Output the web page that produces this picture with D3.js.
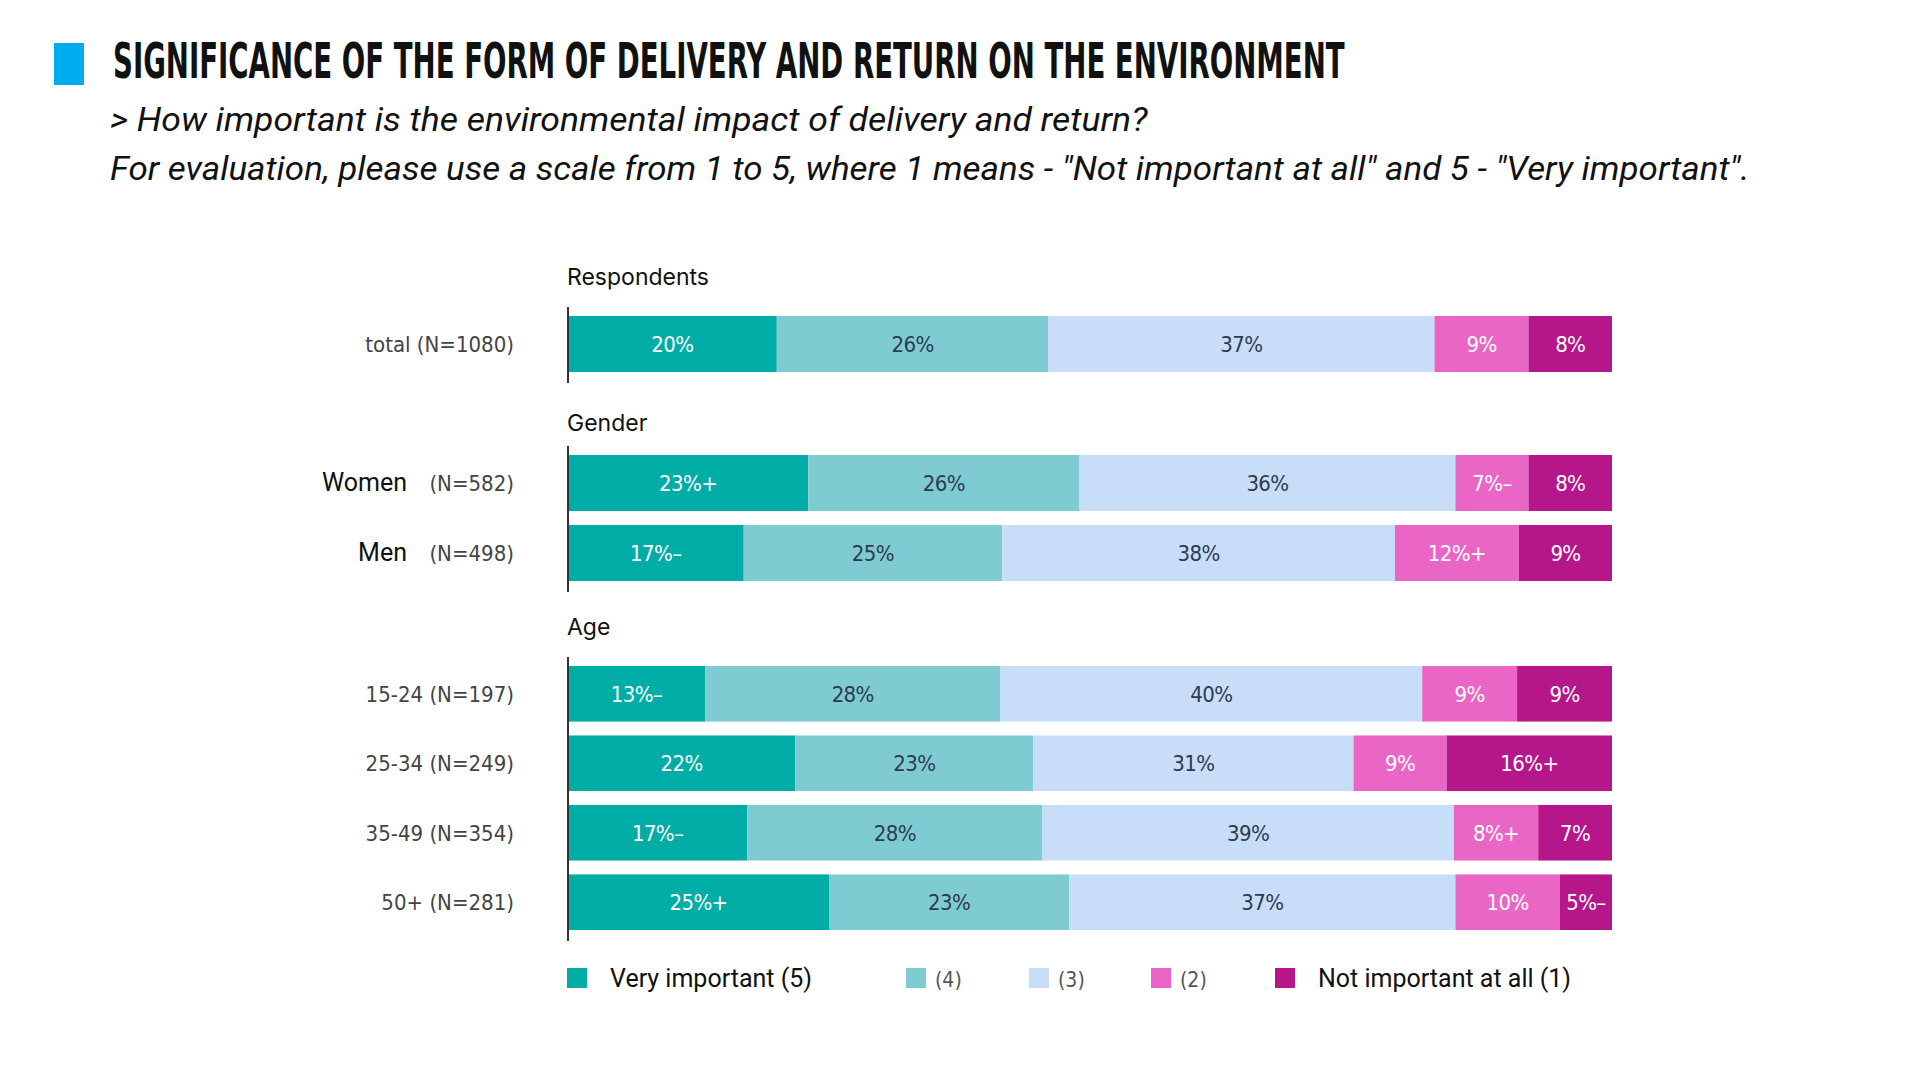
<!DOCTYPE html>
<html lang="en">
<head>
    <meta charset="UTF-8">
    <title>Significance of the form of delivery and return on the environment</title>
    <script src="https://d3js.org/d3.v7.min.js"></script>
</head>
<style>
    html,body{
        padding:0px;
        margin:0px;
        width:1920px;
        height:1080px;
        background:#fff;
        overflow:hidden;
    }
</style>
<body>
<svg id="chart" width="1920" height="1080"></svg>
<script>

    // data
    const groups = ["Respondents", "Gender", "Age"];
    const rowGroup = [0, 1, 1, 2, 2, 2, 2];
    const rowNames = ["total", "Women", "Men", "15-24", "25-34", "35-49", "50+"];
    const rowN = ["(N=1080)", "(N=582)", "(N=498)", "(N=197)", "(N=249)", "(N=354)", "(N=281)"];
    const levels = ["Very important (5)", "(4)", "(3)", "(2)", "Not important at all (1)"];

    const v5 = [20, 23, 17, 13, 22, 17, 25];
    const v4 = [26, 26, 25, 28, 23, 28, 23];
    const v3 = [37, 36, 38, 40, 31, 39, 37];
    const v2 = [9, 7, 12, 9, 9, 8, 10];
    const v1 = [8, 8, 9, 9, 16, 7, 5];

    // significance marks after the value
    const m5 = ["", "+", "–", "–", "", "–", "+"];
    const m4 = ["", "", "", "", "", "", ""];
    const m3 = ["", "", "", "", "", "", ""];
    const m2 = ["", "–", "+", "", "", "+", ""];
    const m1 = ["", "", "", "", "+", "", "–"];

    const colors = ["#00ADA6", "#7ECCD1", "#C8DEF8", "#EA66C6", "#B5168A"];
    const labelColors = ["#ffffff", "#2E3A50", "#2E3A50", "#ffffff", "#ffffff"];

    const keys = ["k5", "k4", "k3", "k2", "k1"];
    const series = [v5, v4, v3, v2, v1];
    const marks = [m5, m4, m3, m2, m1];

    const table = rowNames.map((name, i) => {
        const o = {name: name, i: i};
        keys.forEach((k, j) => o[k] = series[j][i]);
        return o;
    });

    const stacked = d3.stack().keys(keys).offset(d3.stackOffsetExpand)(table);

    const svg = d3.select("#chart");
    const condensed = "'DejaVu Sans Condensed','DejaVu Sans',sans-serif";

    // squeeze a text horizontally to a given width
    function fitWidth(sel, x0, w) {
        const n = sel.node().getComputedTextLength();
        const sx = w / n;
        sel.attr("transform", "translate(" + x0 + ",0) scale(" + sx + ",1)").attr("x", 0);
    }

    // header
    svg.append("rect")
        .attr("x", 54).attr("y", 43)
        .attr("width", 30).attr("height", 42)
        .attr("fill", "#00AEEF");
    const title = svg.append("text")
        .attr("x", 0).attr("y", 78)
        .attr("font-family", condensed)
        .attr("font-stretch", "condensed")
        .attr("font-weight", "bold")
        .attr("font-size", 49)
        .attr("fill", "#111")
        .text("SIGNIFICANCE OF THE FORM OF DELIVERY AND RETURN ON THE ENVIRONMENT");
    fitWidth(title, 113, 1232);

    const sub1 = svg.append("text")
        .attr("x", 0).attr("y", 131)
        .attr("font-family", "Roboto, sans-serif")
        .attr("font-style", "italic")
        .attr("font-size", 33)
        .attr("fill", "#111")
        .text("> How important is the environmental impact of delivery and return?");
    fitWidth(sub1, 110, 1038);
    const sub2 = svg.append("text")
        .attr("x", 0).attr("y", 180)
        .attr("font-family", "Roboto, sans-serif")
        .attr("font-style", "italic")
        .attr("font-size", 33)
        .attr("fill", "#111")
        .text("For evaluation, please use a scale from 1 to 5, where 1 means - \"Not important at all\" and 5 - \"Very important\".");
    fitWidth(sub2, 110, 1640);

    // scales
    const x = d3.scaleLinear().domain([0, 1]).range([568, 1612]);
    const groupRanges = [[316, 372], [455, 581], [666, 930]];
    const groupHeads = [285, 431, 635];
    const yScales = groupRanges.map((r, g) => {
        const names = rowNames.filter((d, i) => rowGroup[i] === g);
        return d3.scaleBand()
            .domain(names)
            .range(r)
            .paddingInner(names.length > 1 ? 0.2 : 0);
    });
    const yOf = i => yScales[rowGroup[i]](rowNames[i]);
    const bh = i => yScales[rowGroup[i]].bandwidth();

    // group titles and axis lines
    groups.forEach((g, gi) => {
        svg.append("text")
            .attr("x", 567).attr("y", groupHeads[gi])
            .attr("font-family", "Inter, sans-serif")
            .attr("font-size", 23)
            .attr("fill", "#111")
            .text(g);
        svg.append("line")
            .attr("x1", 568).attr("x2", 568)
            .attr("y1", groupRanges[gi][0] - 9)
            .attr("y2", groupRanges[gi][1] + 11)
            .attr("stroke", "#333")
            .attr("stroke-width", 2);
    });

    // bars
    const layer = svg.append("g").selectAll("g")
        .data(stacked)
        .join("g")
        .attr("fill", (d, j) => colors[j]);

    layer.selectAll("rect")
        .data(d => d)
        .join("rect")
        .attr("x", d => x(d[0]) + (d[0] === 0 ? 1 : 0))
        .attr("y", d => yOf(d.data.i))
        .attr("width", d => x(d[1]) - x(d[0]) - (d[0] === 0 ? 1 : 0))
        .attr("height", d => bh(d.data.i));

    // value labels
    stacked.forEach((s, j) => {
        svg.append("g").selectAll("text")
            .data(s)
            .join("text")
            .attr("x", d => (x(d[0]) + x(d[1])) / 2)
            .attr("y", d => yOf(d.data.i) + bh(d.data.i) / 2 + 8)
            .attr("text-anchor", "middle")
            .attr("font-family", condensed)
            .attr("font-stretch", "condensed")
            .attr("font-size", 22)
            .attr("letter-spacing", -0.6)
            .attr("fill", labelColors[j])
            .text(d => series[j][d.data.i] + "%" + marks[j][d.data.i]);
    });

    // row labels
    rowNames.forEach((name, i) => {
        const cy = yOf(i) + bh(i) / 2 + 8;
        if (rowGroup[i] === 1) {
            svg.append("text")
                .attr("x", 407).attr("y", cy)
                .attr("text-anchor", "end")
                .attr("font-family", "Roboto, sans-serif")
                .attr("font-size", 25)
                .attr("fill", "#111")
                .text(name);
            svg.append("text")
                .attr("x", 514).attr("y", cy)
                .attr("text-anchor", "end")
                .attr("font-family", condensed)
                .attr("font-stretch", "condensed")
                .attr("font-size", 22)
                .attr("fill", "#444")
                .text(rowN[i]);
        } else {
            svg.append("text")
                .attr("x", 514).attr("y", cy)
                .attr("text-anchor", "end")
                .attr("font-family", condensed)
                .attr("font-stretch", "condensed")
                .attr("font-size", 22)
                .attr("fill", "#444")
                .text(name + " (" + rowN[i].slice(1));
        }
    });

    // legend
    const legendX = [567, 906, 1029, 1151, 1275];
    const legend = svg.append("g").selectAll("g")
        .data(levels)
        .join("g")
        .attr("transform", (d, j) => "translate(" + legendX[j] + ",968)");
    legend.append("rect")
        .attr("width", 20).attr("height", 20)
        .attr("fill", (d, j) => colors[j]);
    legend.append("text")
        .attr("x", (d, j) => (j === 0 || j === 4) ? 43 : 29)
        .attr("y", 19)
        .attr("font-family", (d, j) => (j === 0 || j === 4) ? "Roboto, sans-serif" : condensed)
        .attr("font-stretch", (d, j) => (j === 0 || j === 4) ? "normal" : "condensed")
        .attr("font-size", (d, j) => (j === 0 || j === 4) ? 25 : 21)
        .attr("fill", (d, j) => (j === 0 || j === 4) ? "#111" : "#555")
        .text(d => d);

</script>
</body>
</html>
